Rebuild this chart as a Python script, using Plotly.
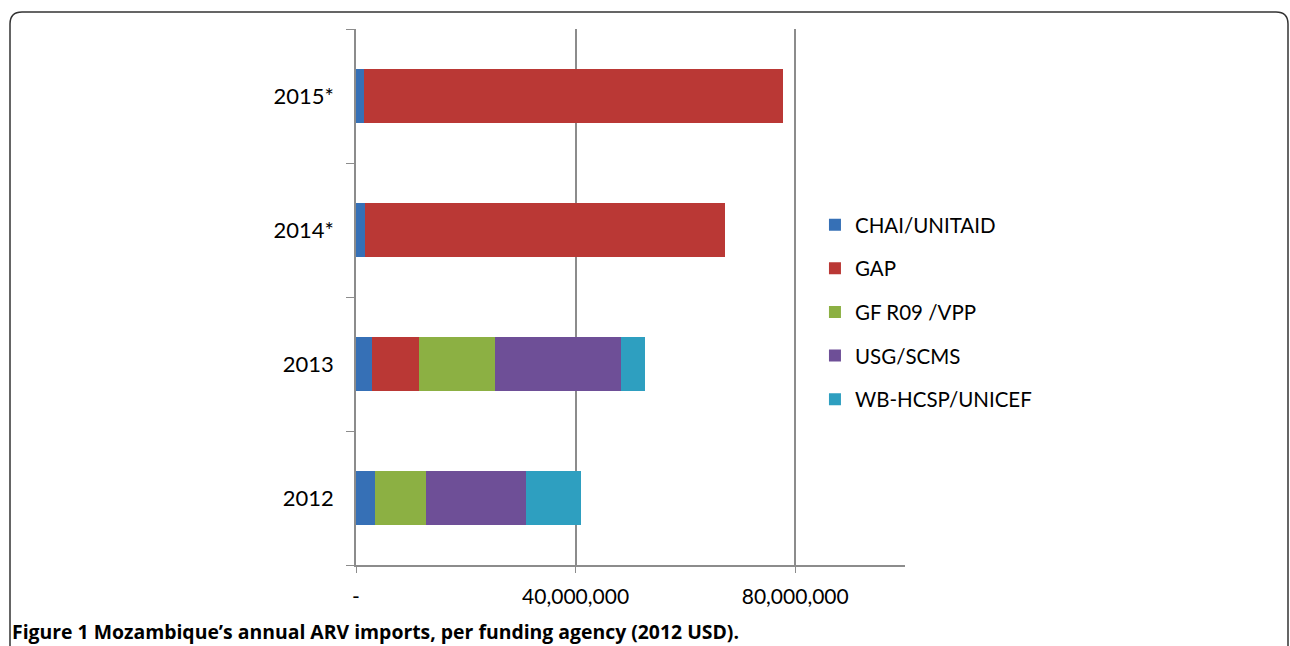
import plotly.graph_objects as go

years = ["2012", "2013", "2014*", "2015*"]
agencies = ["CHAI/UNITAID", "GAP", "GF R09 /VPP", "USG/SCMS", "WB-HCSP/UNICEF"]
chai = [3.4e6, 2.9e6, 1.6e6, 1.45e6]
gap = [0, 8.6e6, 65.7e6, 76.4e6]
gf = [9.3e6, 13.8e6, 0, 0]
usg = [18.2e6, 22.9e6, 0, 0]
wb = [10.0e6, 4.5e6, 0, 0]
series = [chai, gap, gf, usg, wb]
colors = ["#3670B6", "#BA3835", "#8CB043", "#6E4F97", "#2E9FC0"]

x_tickvals = [0, 40e6, 80e6]
x_ticktext = ["-", "40,000,000", "80,000,000"]
caption = "<b>Figure 1 Mozambique\u2019s annual ARV imports, per funding agency (2012 USD).</b>"

FONT = "Lato"
fig = go.Figure()
for i, (name, vals, col) in enumerate(zip(agencies, series, colors)):
    fig.add_trace(go.Bar(
        y=years, x=vals, name=name, orientation="h",
        marker=dict(color=col, line=dict(width=0)),
        legendgroup=f"g{i}",
    ))

W, H = 1290, 646
ml, mr, mt, mb = 356, 385, 29, 81
pw, ph = W - ml - mr, H - mt - mb

def px(x):
    return (x - ml) / pw

def py(y):
    return (H - mb - y) / ph

# rounded border frame
l, r, t, b, rad = 10, 1288, 12, 660, 12
path = (f"M {px(l)} {py(b)} L {px(l)} {py(t+rad)} "
        f"Q {px(l)} {py(t)} {px(l+rad)} {py(t)} "
        f"L {px(r-rad)} {py(t)} Q {px(r)} {py(t)} {px(r)} {py(t+rad)} "
        f"L {px(r)} {py(b)}")

fig.update_layout(
    width=W, height=H,
    margin=dict(l=ml, r=mr, t=mt, b=mb),
    barmode="stack",
    bargap=0.59,
    plot_bgcolor="white", paper_bgcolor="white",
    font=dict(family=FONT, size=21, color="black"),
    showlegend=True,
    legend=dict(x=0.836, xanchor="left", y=0.672, yanchor="top",
                traceorder="grouped", tracegroupgap=14,
                font=dict(size=20.5), bgcolor="rgba(0,0,0,0)"),
    xaxis=dict(range=[0, 100e6], tickvals=x_tickvals, ticktext=x_ticktext,
               showgrid=True, gridcolor="#8c8c8c", gridwidth=1.5,
               showline=True, linecolor="#8c8c8c", linewidth=1.5,
               ticks="outside", ticklen=6, tickcolor="#8c8c8c",
               ticklabelstandoff=6, zeroline=False, fixedrange=True,
               tickfont=dict(size=21)),
    yaxis=dict(categoryorder="array", categoryarray=years,
               showline=True, linecolor="#8c8c8c", linewidth=1.5,
               ticks="outside", ticklen=8, tickcolor="#8c8c8c",
               tickson="boundaries", ticklabelstandoff=16,
               showgrid=False, fixedrange=True,
               tickfont=dict(size=22)),
    shapes=[dict(type="path", path=path, xref="paper", yref="paper",
                 line=dict(color="#333333", width=1.5), layer="below")],
    annotations=[dict(text=caption, xref="paper", yref="paper",
                      x=px(10), y=py(631), xanchor="left", yanchor="middle",
                      showarrow=False,
                      font=dict(family="Open Sans", size=19.4))],
)

fig.write_html("out.html")
